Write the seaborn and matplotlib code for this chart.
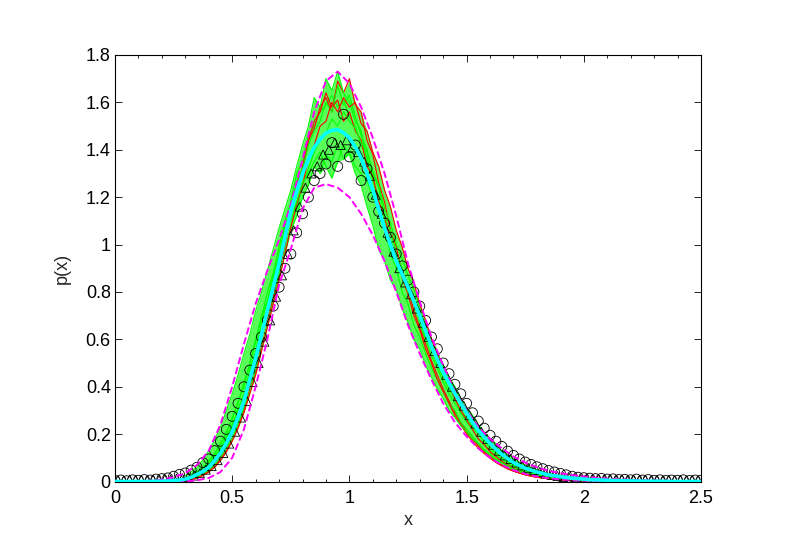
import numpy as np
import pandas as pd
import matplotlib
matplotlib.use("Agg")
import matplotlib.pyplot as plt
from matplotlib.ticker import MultipleLocator
import seaborn as sns

sns.set_style("ticks")
plt.rcParams['font.family'] = ['Liberation Sans', 'DejaVu Sans']

# ── Data ───────────────────────────────────────────
# mean curve (cyan), x = 0 .. 2.5 step 0.025
CYAN = [0, 0, 0, 0, 0, 0, 0, 0.001, 0.001, 0.002, 0.004, 0.006,
        0.010, 0.018, 0.030, 0.043,
        0.060, 0.088, 0.120, 0.162,
        0.210, 0.272, 0.340, 0.430,
        0.520, 0.620, 0.720, 0.820,
        0.920, 1.030, 1.140, 1.225,
        1.300, 1.360, 1.410, 1.445,
        1.470, 1.482, 1.485, 1.472,
        1.450, 1.412, 1.365, 1.300,
        1.230, 1.150, 1.070, 1.000,
        0.930, 0.875, 0.820, 0.760,
        0.700, 0.635, 0.570, 0.515,
        0.460, 0.415, 0.370, 0.330,
        0.290, 0.250, 0.215, 0.188,
        0.160, 0.137, 0.115, 0.097,
        0.080, 0.068, 0.056, 0.048,
        0.040, 0.034, 0.028, 0.024,
        0.020, 0.017, 0.014, 0.012,
        0.010,
        0.008, 0.007, 0.006, 0.005, 0.004, 0.0035, 0.003, 0.0025, 0.002,
        0.0015, 0.001, 0.001, 0.001, 0.0005, 0, 0, 0, 0, 0, 0]

# dashed bounds (magenta), x = 0 .. 2.5 step 0.05
UPPER = [0, 0, 0.001, 0.003, 0.008, 0.018, 0.035, 0.070, 0.130, 0.240,
         0.400, 0.580, 0.750, 0.890, 1.020, 1.170, 1.360, 1.560, 1.690, 1.730,
         1.680, 1.580, 1.450, 1.300, 1.120, 0.920, 0.760, 0.610, 0.490, 0.380,
         0.300, 0.230, 0.180, 0.140, 0.105, 0.080, 0.060, 0.045, 0.035, 0.027,
         0.021, 0.016, 0.012, 0.009, 0.007, 0.005, 0.004, 0.003, 0.002, 0.001,
         0.001]
LOWER = [0, 0, 0, 0, 0, 0, 0.001, 0.005, 0.015, 0.040,
         0.100, 0.220, 0.400, 0.600, 0.830, 0.980, 1.150, 1.240, 1.255, 1.240,
         1.200, 1.130, 1.040, 0.930, 0.800, 0.660, 0.540, 0.430, 0.330, 0.250,
         0.190, 0.140, 0.100, 0.070, 0.048, 0.032, 0.021, 0.014, 0.009, 0.006,
         0.004, 0.003, 0.002, 0.001, 0.001, 0, 0, 0, 0, 0,
         0]

# open circles, x = 0 .. 2.5 step 0.025
CIRCLES = [0.004, 0.006, 0.003, 0.007, 0.005, 0.008, 0.006, 0.010,
           0.012, 0.015, 0.022, 0.030, 0.036, 0.048, 0.060, 0.080,
           0.095, 0.130, 0.170, 0.220, 0.275, 0.330, 0.400, 0.470,
           0.540, 0.610, 0.680, 0.740, 0.820, 0.900, 0.960, 1.050,
           1.130, 1.200, 1.270, 1.300, 1.340, 1.430, 1.330, 1.550,
           1.370, 1.420, 1.270, 1.320, 1.200, 1.140, 1.090, 1.030,
           0.960, 0.910, 0.850, 0.800, 0.740, 0.680, 0.610, 0.560,
           0.500, 0.455, 0.410, 0.370, 0.330, 0.290, 0.255, 0.225,
           0.195, 0.170, 0.148, 0.128, 0.110, 0.095, 0.082, 0.072,
           0.062, 0.054, 0.046, 0.040, 0.034, 0.028, 0.022, 0.018,
           0.016, 0.014, 0.012, 0.013, 0.010, 0.011, 0.008, 0.009,
           0.007, 0.010, 0.006, 0.008, 0.005, 0.007, 0.004, 0.006,
           0.005, 0.007, 0.004, 0.006, 0.005]

# open triangles, x = 0.0125 .. 2.4875 step 0.025
TRIANGLES = [0.006, 0.004, 0.008, 0.005, 0.007, 0.004, 0.008, 0.006,
             0.009, 0.008, 0.012, 0.014, 0.020, 0.025, 0.035, 0.050,
             0.065, 0.090, 0.120, 0.160, 0.210, 0.270, 0.340, 0.420,
             0.500, 0.590, 0.680, 0.780, 0.870, 0.960, 1.060, 1.160,
             1.240, 1.300, 1.330, 1.380, 1.400, 1.430, 1.420, 1.440,
             1.410, 1.390, 1.350, 1.290, 1.210, 1.130, 1.050, 0.970,
             0.900, 0.840, 0.790, 0.730, 0.670, 0.610, 0.550, 0.500,
             0.450, 0.400, 0.360, 0.320, 0.280, 0.245, 0.210, 0.180,
             0.155, 0.130, 0.110, 0.095, 0.080, 0.068, 0.058, 0.048,
             0.040, 0.034, 0.028, 0.023, 0.019, 0.016, 0.013, 0.011,
             0.009, 0.008, 0.010, 0.007, 0.008, 0.006, 0.009, 0.005,
             0.007, 0.006, 0.008, 0.005, 0.006, 0.004, 0.007, 0.005,
             0.006, 0.004, 0.007, 0.005]

# noisy sample runs, x = 0.3 .. 2.0 step 0.025
G1 = [0.015, 0.025, 0.040, 0.060, 0.085, 0.120, 0.150, 0.210, 0.260, 0.340, 0.400, 0.500,
      0.600, 0.690, 0.800, 0.880, 0.990, 1.100, 1.180, 1.300, 1.350, 1.460, 1.500, 1.560,
      1.590, 1.630, 1.580, 1.610, 1.540, 1.500, 1.420, 1.370, 1.270, 1.200, 1.090, 1.020,
      0.930, 0.860, 0.800, 0.720, 0.660, 0.600, 0.530, 0.480, 0.420, 0.370, 0.330, 0.290,
      0.250, 0.220, 0.180, 0.160, 0.130, 0.110, 0.095, 0.075, 0.062, 0.050, 0.042, 0.034,
      0.028, 0.022, 0.020, 0.015, 0.013, 0.010, 0.009, 0.007, 0.006]
G2 = [0.025, 0.040, 0.065, 0.090, 0.130, 0.175, 0.230, 0.300, 0.370, 0.450, 0.540, 0.620,
      0.720, 0.800, 0.890, 0.980, 1.070, 1.150, 1.230, 1.330, 1.420, 1.500, 1.620, 1.580,
      1.700, 1.650, 1.730, 1.640, 1.600, 1.520, 1.480, 1.350, 1.290, 1.150, 1.080, 0.960,
      0.900, 0.800, 0.750, 0.660, 0.610, 0.540, 0.480, 0.430, 0.380, 0.330, 0.300, 0.250,
      0.220, 0.190, 0.160, 0.130, 0.115, 0.090, 0.080, 0.062, 0.050, 0.042, 0.033, 0.028,
      0.022, 0.018, 0.014, 0.012, 0.010, 0.008, 0.006, 0.005, 0.004]
G3 = [0.012, 0.022, 0.035, 0.050, 0.075, 0.100, 0.140, 0.180, 0.240, 0.300, 0.370, 0.440,
      0.530, 0.630, 0.700, 0.800, 0.880, 0.960, 1.060, 1.120, 1.200, 1.250, 1.330, 1.300,
      1.380, 1.350, 1.420, 1.360, 1.390, 1.330, 1.300, 1.270, 1.200, 1.150, 1.060, 1.010,
      0.950, 0.870, 0.830, 0.760, 0.720, 0.650, 0.600, 0.540, 0.490, 0.440, 0.400, 0.350,
      0.310, 0.280, 0.240, 0.210, 0.180, 0.160, 0.130, 0.115, 0.095, 0.080, 0.068, 0.058,
      0.048, 0.040, 0.034, 0.028, 0.024, 0.020, 0.016, 0.014, 0.012]
G4 = [0.005, 0.012, 0.020, 0.032, 0.048, 0.070, 0.100, 0.140, 0.180, 0.240, 0.310, 0.380,
      0.470, 0.560, 0.660, 0.760, 0.870, 0.970, 1.080, 1.150, 1.250, 1.320, 1.390, 1.440,
      1.470, 1.530, 1.500, 1.560, 1.520, 1.490, 1.430, 1.390, 1.310, 1.250, 1.150, 1.090,
      1.000, 0.940, 0.870, 0.810, 0.740, 0.680, 0.600, 0.550, 0.480, 0.440, 0.390, 0.340,
      0.300, 0.260, 0.220, 0.195, 0.165, 0.140, 0.118, 0.100, 0.082, 0.070, 0.058, 0.048,
      0.040, 0.034, 0.028, 0.023, 0.019, 0.016, 0.013, 0.011, 0.009]
G5 = [0.010, 0.020, 0.036, 0.050, 0.070, 0.110, 0.130, 0.190, 0.230, 0.310, 0.360, 0.470,
      0.550, 0.670, 0.760, 0.860, 0.960, 1.080, 1.150, 1.270, 1.320, 1.420, 1.480, 1.520,
      1.600, 1.560, 1.670, 1.590, 1.630, 1.540, 1.460, 1.400, 1.300, 1.240, 1.120, 1.060,
      0.960, 0.900, 0.800, 0.750, 0.680, 0.610, 0.560, 0.490, 0.440, 0.390, 0.350, 0.300,
      0.270, 0.230, 0.200, 0.170, 0.145, 0.120, 0.105, 0.085, 0.070, 0.060, 0.048, 0.040,
      0.033, 0.028, 0.022, 0.018, 0.015, 0.012, 0.010, 0.008, 0.007]
G6 = [0.014, 0.024, 0.042, 0.055, 0.090, 0.115, 0.165, 0.200, 0.270, 0.330, 0.420, 0.490,
      0.590, 0.700, 0.760, 0.870, 0.940, 1.050, 1.100, 1.180, 1.260, 1.300, 1.350, 1.390,
      1.330, 1.280, 1.350, 1.420, 1.380, 1.300, 1.250, 1.160, 1.080, 0.980, 0.930, 0.850,
      0.810, 0.730, 0.670, 0.600, 0.560, 0.490, 0.440, 0.390, 0.350, 0.300, 0.270, 0.235,
      0.210, 0.180, 0.160, 0.135, 0.115, 0.095, 0.080, 0.066, 0.054, 0.044, 0.036, 0.030,
      0.024, 0.020, 0.016, 0.013, 0.011, 0.009, 0.007, 0.006, 0.005]
R1 = [0.004, 0.010, 0.018, 0.028, 0.045, 0.065, 0.095, 0.130, 0.180, 0.230, 0.300, 0.390,
      0.460, 0.570, 0.660, 0.780, 0.880, 1.000, 1.130, 1.220, 1.330, 1.440, 1.490, 1.580,
      1.620, 1.560, 1.690, 1.640, 1.700, 1.590, 1.560, 1.440, 1.380, 1.260, 1.180, 1.060,
      0.990, 0.880, 0.820, 0.720, 0.650, 0.580, 0.510, 0.450, 0.390, 0.340, 0.290, 0.250,
      0.210, 0.180, 0.150, 0.125, 0.105, 0.085, 0.070, 0.056, 0.045, 0.036, 0.029, 0.023,
      0.018, 0.015, 0.012, 0.009, 0.007, 0.006, 0.005, 0.004, 0.003]
R2 = [0.006, 0.012, 0.022, 0.034, 0.050, 0.080, 0.105, 0.150, 0.200, 0.260, 0.330, 0.410,
      0.500, 0.610, 0.690, 0.820, 0.910, 1.040, 1.120, 1.260, 1.310, 1.440, 1.520, 1.560,
      1.640, 1.580, 1.610, 1.520, 1.560, 1.480, 1.440, 1.330, 1.290, 1.180, 1.120, 1.010,
      0.950, 0.860, 0.790, 0.700, 0.640, 0.560, 0.500, 0.430, 0.380, 0.330, 0.280, 0.240,
      0.200, 0.170, 0.140, 0.118, 0.098, 0.080, 0.066, 0.053, 0.043, 0.035, 0.028, 0.022,
      0.018, 0.014, 0.011, 0.009, 0.007, 0.006, 0.004, 0.004, 0.003]
R3 = [0.003, 0.008, 0.015, 0.025, 0.040, 0.060, 0.088, 0.125, 0.170, 0.225, 0.290, 0.370,
      0.450, 0.550, 0.650, 0.750, 0.850, 0.960, 1.070, 1.170, 1.250, 1.360, 1.420, 1.500,
      1.520, 1.600, 1.560, 1.620, 1.580, 1.600, 1.510, 1.480, 1.390, 1.330, 1.230, 1.160,
      1.060, 0.990, 0.900, 0.840, 0.750, 0.680, 0.600, 0.540, 0.460, 0.410, 0.350, 0.300,
      0.260, 0.220, 0.180, 0.155, 0.125, 0.105, 0.085, 0.070, 0.056, 0.045, 0.036, 0.029,
      0.023, 0.018, 0.014, 0.011, 0.009, 0.007, 0.006, 0.005, 0.004]

RUNS = {"g1": G1, "r1": R1, "g2": G2, "g3": G3, "r2": R2,
        "g4": G4, "g5": G5, "r3": R3, "g6": G6}
RUN_COLOURS = {k: ("#ff0000" if k.startswith("r") else "#00ff00") for k in RUNS}

XTICKS = [0, 0.5, 1, 1.5, 2, 2.5]
XTICK_LABELS = ["0", "0.5", "1", "1.5", "2", "2.5"]
YTICKS = [0, 0.2, 0.4, 0.6, 0.8, 1.0, 1.2, 1.4, 1.6, 1.8]
YTICK_LABELS = ["0", "0.2", "0.4", "0.6", "0.8", "1", "1.2", "1.4", "1.6", "1.8"]

# ── grids ──────────────────────────────────────────
x_fine = np.linspace(0, 2.5, len(CYAN))
x_bound = np.linspace(0, 2.5, len(UPPER))
x_circ = np.linspace(0, 2.5, len(CIRCLES))
x_tri = np.linspace(0.0125, 2.4875, len(TRIANGLES))
x_run = np.linspace(0.3, 2.0, len(G1))

runs = pd.DataFrame([(name, xv, yv) for name, ys in RUNS.items()
                     for xv, yv in zip(x_run, ys)], columns=["run", "x", "p"])
run_stack = np.array(list(RUNS.values()))

# ── figure ─────────────────────────────────────────
fig = plt.figure(figsize=(7.89, 5.58), dpi=100)
ax = fig.add_axes([115 / 789, 1 - 481.5 / 558, 586 / 789, 426.5 / 558])

# spread of the runs, drawn underneath as the dense green band
ax.fill_between(x_run, run_stack.min(axis=0), run_stack.max(axis=0),
                color="#00ff00", alpha=0.65, linewidth=0, zorder=0.5)
sns.lineplot(data=runs, x="x", y="p", hue="run", hue_order=list(RUNS),
             palette=RUN_COLOURS, linewidth=0.8, legend=False, ax=ax, zorder=1)

sns.scatterplot(x=x_circ, y=CIRCLES, marker="o", s=52, facecolors="none",
                edgecolor="black", linewidth=0.6, ax=ax, zorder=3)
sns.scatterplot(x=x_tri, y=TRIANGLES, marker="^", s=42, facecolors="none",
                edgecolor="black", linewidth=0.6, ax=ax, zorder=3)

sns.lineplot(x=x_bound, y=UPPER, color="#ff00ff", linestyle="--",
             linewidth=1.4, ax=ax, zorder=4)
sns.lineplot(x=x_bound, y=LOWER, color="#ff00ff", linestyle="--",
             linewidth=1.4, ax=ax, zorder=4)

sns.lineplot(x=x_fine, y=CYAN, color="#00ffff", linewidth=2.6, ax=ax, zorder=5)

ax.set_xlim(0, 2.5)
ax.set_ylim(0, 1.8)
ax.set_xticks(XTICKS)
ax.set_xticklabels(XTICK_LABELS)
ax.set_yticks(YTICKS)
ax.set_yticklabels(YTICK_LABELS)
ax.xaxis.set_minor_locator(MultipleLocator(0.1))

ax.tick_params(which="both", direction="in", top=True, right=True,
               colors="black", labelsize=13, width=0.6)
ax.tick_params(which="major", length=5)
ax.tick_params(which="minor", length=2.5)
ax.tick_params(axis="x", pad=6)
ax.tick_params(axis="y", pad=3)
for s in ax.spines.values():
    s.set_color("black")
    s.set_linewidth(0.8)

ax.set_xlabel("x", fontsize=13, labelpad=4)
ax.set_ylabel("p(x)", fontsize=13, labelpad=11)

fig.savefig("out.png", dpi=100)
